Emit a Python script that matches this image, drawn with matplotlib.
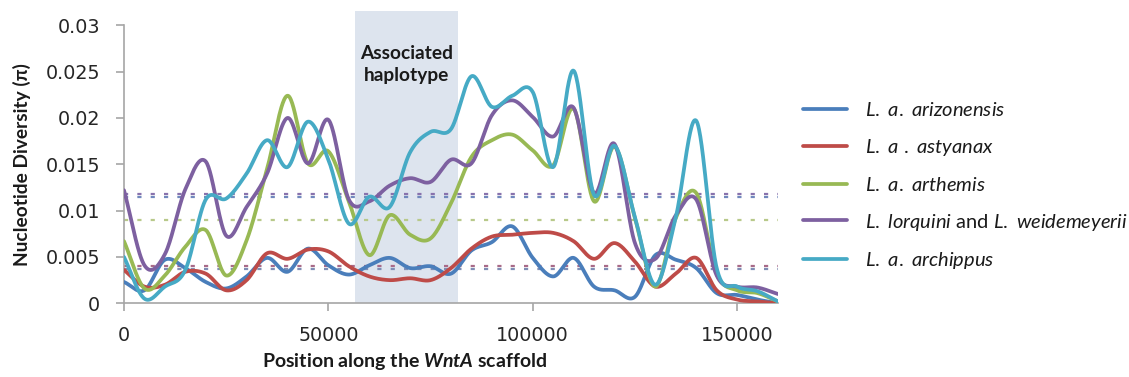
import numpy as np
import matplotlib
matplotlib.use("Agg")
import matplotlib.pyplot as plt

# Window positions along the scaffold (bp) and nucleotide diversity per window
positions = list(range(0, 160001, 5000))

arizonensis = [0.0023, 0.0014, 0.0047, 0.0038, 0.0023, 0.0016, 0.0029, 0.0049, 0.0034, 0.0059,
               0.0041, 0.0031, 0.0041, 0.0049, 0.0038, 0.0040, 0.0032, 0.0057, 0.0066, 0.0083,
               0.0049, 0.0029, 0.0049, 0.0018, 0.0014, 0.0007, 0.0052, 0.0047, 0.0038, 0.0011,
               0.0009, 0.0004, 0.0000]
astyanax = [0.0036, 0.0018, 0.0020, 0.0034, 0.0032, 0.0014, 0.0025, 0.0054, 0.0048, 0.0058,
            0.0056, 0.0040, 0.0029, 0.0025, 0.0027, 0.0025, 0.0038, 0.0059, 0.0072, 0.0074,
            0.0076, 0.0076, 0.0067, 0.0048, 0.0065, 0.0045, 0.0018, 0.0032, 0.0049, 0.0014,
            0.0004, 0.0002, 0.0000]
arthemis = [0.0067, 0.0016, 0.0030, 0.0061, 0.0079, 0.0030, 0.0068, 0.0145, 0.0224, 0.0151,
            0.0164, 0.0110, 0.0052, 0.0095, 0.0074, 0.0070, 0.0108, 0.0158, 0.0176, 0.0182,
            0.0165, 0.0149, 0.0210, 0.0110, 0.0169, 0.0092, 0.0018, 0.0092, 0.0119, 0.0032,
            0.0014, 0.0011, 0.0002]
lorquini = [0.0122, 0.0041, 0.0053, 0.0123, 0.0153, 0.0073, 0.0104, 0.0140, 0.0200, 0.0151,
            0.0198, 0.0112, 0.0110, 0.0127, 0.0135, 0.0131, 0.0155, 0.0151, 0.0203, 0.0219,
            0.0201, 0.0180, 0.0211, 0.0119, 0.0172, 0.0065, 0.0048, 0.0095, 0.0112, 0.0030,
            0.0018, 0.0017, 0.0010]
archippus = [0.0050, 0.0005, 0.0018, 0.0036, 0.0112, 0.0113, 0.0140, 0.0176, 0.0147, 0.0196,
             0.0155, 0.0086, 0.0115, 0.0104, 0.0163, 0.0185, 0.0188, 0.0245, 0.0212, 0.0224,
             0.0228, 0.0147, 0.0251, 0.0117, 0.0170, 0.0093, 0.0020, 0.0093, 0.0197, 0.0038,
             0.0018, 0.0013, 0.0002]

series_labels = [r"$\mathit{L.\ a.\ arizonensis}$",
                 r"$\mathit{L.\ a\ .\ astyanax}$",
                 r"$\mathit{L.\ a.\ arthemis}$",
                 r"$\mathit{L.\ lorquini}$ and $\mathit{L.\ weidemeyerii}$",
                 r"$\mathit{L.\ a.\ archippus}$"]
series_colors = ["#4a7ebb", "#be4b48", "#98b954", "#7d60a0", "#46aac5"]

# Genome-wide average diversity levels (dotted reference lines)
mean_levels = [0.0118, 0.0115, 0.0090, 0.0040, 0.0037]
mean_colors = ["#8872ad", "#7088bd", "#b8c98a", "#a86a88", "#7f8db5"]

# Region carrying the associated haplotype
haplotype_span = (56600, 81800)

y_ticks = [0, 0.005, 0.01, 0.015, 0.02, 0.025, 0.03]
y_tick_labels = ["0", "0.005", "0.01", "0.015", "0.02", "0.025", "0.03"]
x_ticks = [0, 50000, 100000, 150000]
x_tick_labels = ["0", "50000", "100000", "150000"]


def smooth_curve(xs, ys, steps=30):
    """Catmull-Rom smoothed path through the given points."""
    xs = np.asarray(xs, float)
    ys = np.asarray(ys, float)
    px = np.concatenate([[2 * xs[0] - xs[1]], xs, [2 * xs[-1] - xs[-2]]])
    py = np.concatenate([[2 * ys[0] - ys[1]], ys, [2 * ys[-1] - ys[-2]]])
    t = np.linspace(0, 1, steps, endpoint=False)
    h00 = 2 * t**3 - 3 * t**2 + 1
    h10 = t**3 - 2 * t**2 + t
    h01 = -2 * t**3 + 3 * t**2
    h11 = t**3 - t**2
    out_x, out_y = [], []
    for i in range(1, len(px) - 2):
        mx0 = (px[i + 1] - px[i - 1]) / 2
        mx1 = (px[i + 2] - px[i]) / 2
        my0 = (py[i + 1] - py[i - 1]) / 2
        my1 = (py[i + 2] - py[i]) / 2
        out_x.append(h00 * px[i] + h10 * mx0 + h01 * px[i + 1] + h11 * mx1)
        out_y.append(h00 * py[i] + h10 * my0 + h01 * py[i + 1] + h11 * my1)
    out_x.append([xs[-1]])
    out_y.append([ys[-1]])
    return np.concatenate(out_x), np.concatenate(out_y)


plt.rcParams["mathtext.fontset"] = "custom"
plt.rcParams["mathtext.it"] = "Lato:italic"
plt.rcParams["mathtext.rm"] = "Lato"
plt.rcParams["mathtext.bf"] = "Lato:italic:bold"
plt.rcParams["lines.scale_dashes"] = False

fig = plt.figure(figsize=(11.29, 3.77), dpi=100)
ax = fig.add_axes([124 / 1129, 73.7 / 377, 654 / 1129, 278 / 377])

ax.axvspan(*haplotype_span, ymin=0, ymax=1.051, color="#dde4ee", lw=0, zorder=0, clip_on=False)
ax.text(sum(haplotype_span) / 2, 0.0258, "Associated\nhaplotype", ha="center", va="center",
        fontsize=13.8, fontweight="bold", family="Lato", color="#1a1a1a", linespacing=1.35)

for level, col in zip(mean_levels, mean_colors):
    ax.plot([0, 160000], [level, level], color=col, lw=1.6, dashes=(3.0, 6.6), zorder=1)

all_series = [arizonensis, astyanax, arthemis, lorquini, archippus]
handles = []
for vals, col, lab in zip(all_series, series_colors, series_labels):
    sx, sy = smooth_curve(positions, vals)
    h, = ax.plot(sx, sy, color=col, lw=2.7, label=lab, zorder=3, solid_capstyle="round")
    handles.append(h)

ax.set_xlim(0, 160000)
ax.set_ylim(0, 0.03)
ax.set_yticks(y_ticks)
ax.set_yticklabels(y_tick_labels)
ax.set_xticks(x_ticks)
ax.set_xticklabels(x_tick_labels)
for s in ["top", "right"]:
    ax.spines[s].set_visible(False)
for s in ["left", "bottom"]:
    ax.spines[s].set_color("#a6a6a6")
    ax.spines[s].set_linewidth(1.2)
ax.tick_params(axis="both", direction="out", length=5.8, width=1.2, color="#a6a6a6",
               labelsize=13.8, labelcolor="#262626")
ax.tick_params(axis="y", pad=11.5)
ax.tick_params(axis="x", pad=10.5)
ax.set_facecolor("none")

fig.text(22 / 1129, (377 - 164.5) / 377, "Nucleotide Diversity (π)", rotation=90,
         ha="center", va="center", fontsize=13.8, fontweight="bold",
         family=["Lato", "DejaVu Sans"], color="#1a1a1a")
fig.text(405 / 1129, 10 / 377, r"Position along the $\mathbf{WntA}$ scaffold", ha="center",
         va="baseline", fontsize=14, fontweight="bold", family="Lato", color="#1a1a1a")

fig.legend(handles=handles, loc="center left", bbox_to_anchor=(803 / 1129, (377 - 186.3) / 377),
           frameon=False, prop={"family": "Lato", "size": 14.5}, handlelength=2.19,
           handletextpad=0.9, labelspacing=0.88, borderpad=0, borderaxespad=0,
           labelcolor="#1a1a1a")

fig.savefig("out.png", dpi=100)
